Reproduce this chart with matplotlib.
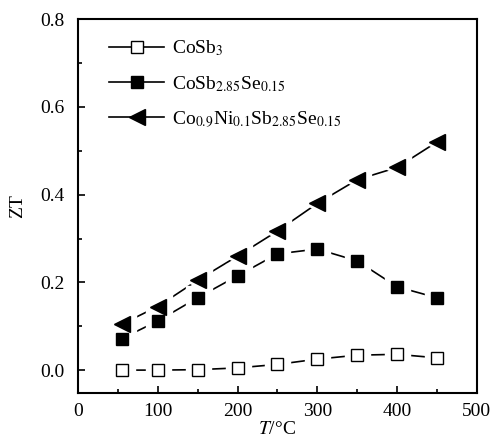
import matplotlib
matplotlib.use('Agg')
import matplotlib.pyplot as plt
from matplotlib.lines import Line2D
from matplotlib.ticker import MultipleLocator, FormatStrFormatter

plt.rcParams['font.family'] = ['Liberation Serif', 'DejaVu Serif']
plt.rcParams['mathtext.fontset'] = 'stix'

# data
temps = [55, 100, 150, 200, 250, 300, 350, 400, 450]
zt_cosb3 = [0.0, 0.0, 0.001, 0.005, 0.013, 0.025, 0.034, 0.036, 0.028]
zt_se = [0.072, 0.112, 0.165, 0.215, 0.265, 0.276, 0.249, 0.19, 0.165]
zt_ni = [0.105, 0.145, 0.205, 0.26, 0.317, 0.38, 0.434, 0.462, 0.52]
labels = ['CoSb$_3$', 'CoSb$_{2.85}$Se$_{0.15}$',
          'Co$_{0.9}$Ni$_{0.1}$Sb$_{2.85}$Se$_{0.15}$']

fig = plt.figure(figsize=(4.91, 4.47), dpi=100)
ax = fig.add_axes([0.159, 0.121, 0.812, 0.836])

styles = [('s', 'white', 9), ('s', 'black', 9), ('<', 'black', 11)]
for vals, lab, (mk, fc, ms) in zip([zt_cosb3, zt_se, zt_ni], labels, styles):
    ax.plot(temps, vals, color='black', lw=1.2, zorder=2)
    # white halo so the line stops short of each marker
    ax.plot(temps, vals, ls='none', marker=mk, ms=ms + 9, mfc='white',
            mec='white', zorder=3)
    ax.plot(temps, vals, ls='none', marker=mk, ms=ms, mfc=fc, mec='black',
            mew=1.0, zorder=4)

handles = []
for mk, fc, ms in styles:
    handles.append(Line2D([], [], color='black', lw=1.2, marker=mk, ms=ms,
                          mfc=fc, mec='black'))
ax.legend(handles, labels, loc='upper left', frameon=False,
          fontsize=14, handlelength=2.8, handletextpad=0.4,
          labelspacing=0.8, borderaxespad=0.6, bbox_to_anchor=(0.03, 1.0))

ax.set_xlim(0, 500)
ax.set_ylim(-0.052, 0.8)
ax.xaxis.set_major_locator(MultipleLocator(100))
ax.xaxis.set_minor_locator(MultipleLocator(50))
ax.yaxis.set_major_locator(MultipleLocator(0.2))
ax.yaxis.set_minor_locator(MultipleLocator(0.1))
ax.yaxis.set_major_formatter(FormatStrFormatter('%.1f'))
ax.tick_params(which='both', direction='in', labelsize=14)
ax.tick_params(which='major', length=5, width=1.2)
ax.tick_params(which='minor', length=3, width=1.2)
ax.tick_params(axis='y', pad=10)
ax.tick_params(axis='x', pad=7)
for s in ax.spines.values():
    s.set_linewidth(1.5)

ax.set_xlabel('$T$/°C', fontsize=14, labelpad=1)
ax.set_ylabel('ZT', fontsize=14, labelpad=10)

fig.savefig('out.png', dpi=100)
